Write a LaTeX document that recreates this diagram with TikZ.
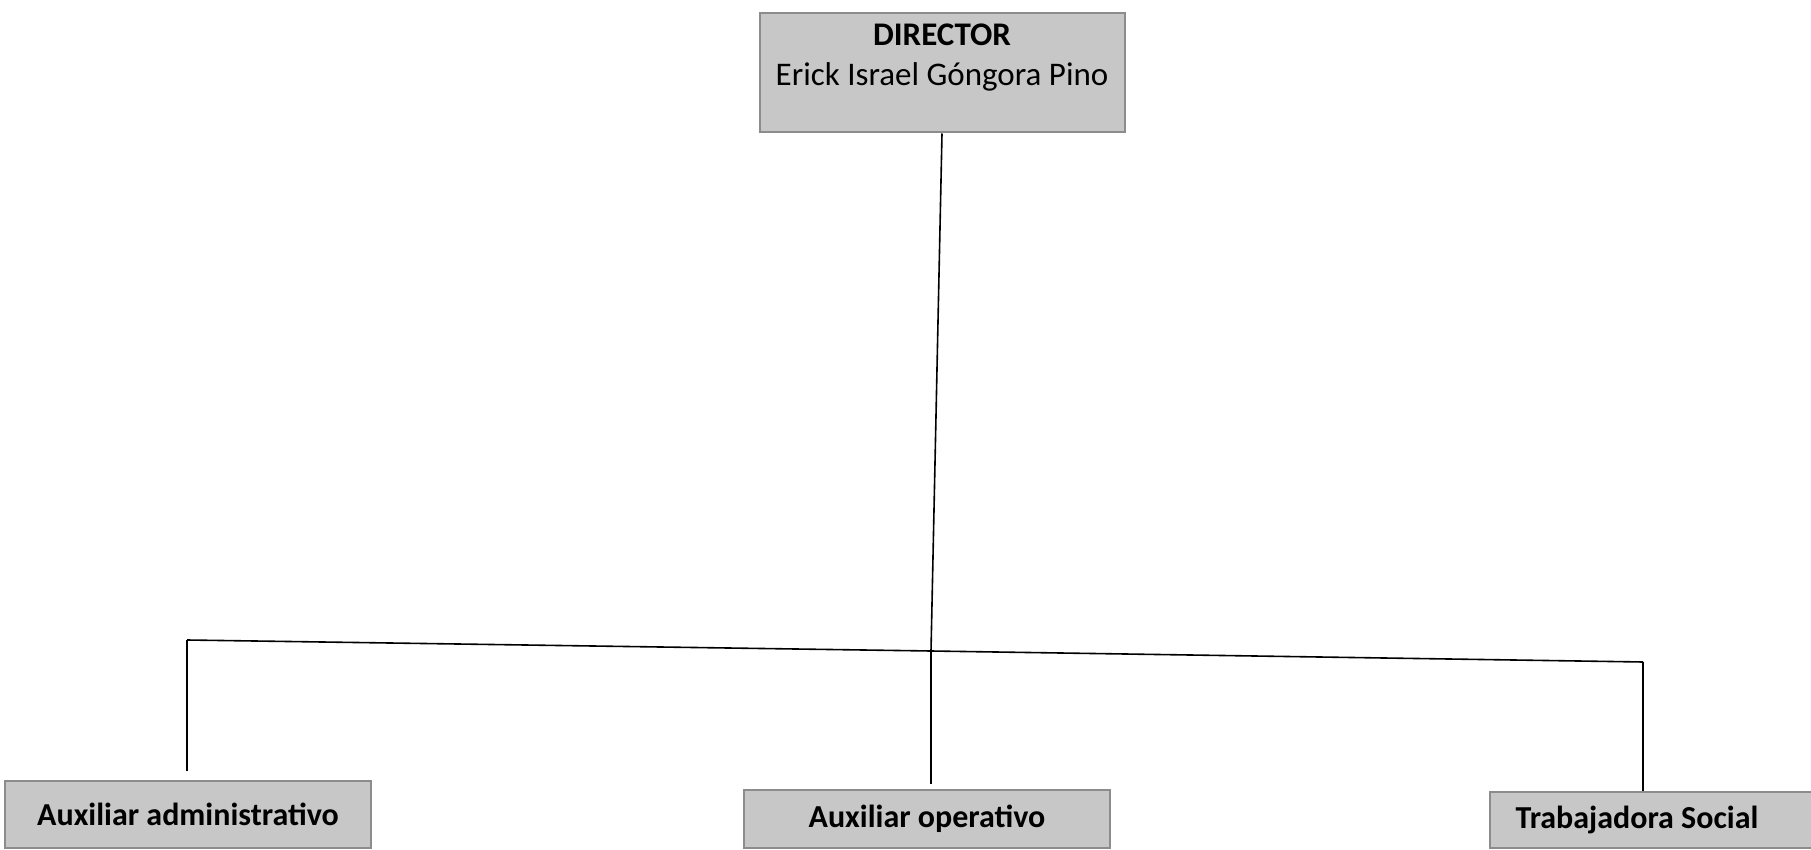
\documentclass[tikz,border=0pt]{standalone}
\usepackage{fontspec}
\setmainfont{Carlito}
\usetikzlibrary{positioning,arrows.meta}
\tikzset{
mybox/.style={
  rectangle,
  draw=black!45,
  fill=black!22,
  line width=1pt,
  align=center,
  font=\fontsize{16}{19}\selectfont\bfseries,
  inner sep=0pt
  },
myline/.style={
  draw=black,
  line width=0.8pt
  }
}
\begin{document}
\begin{tikzpicture}[x=0.5pt,y=-0.5pt]

\clip (0,0) rectangle (1811,850);
\fill[white] (0,0) rectangle (1811,850);

\node[mybox,minimum width=365*0.5pt,minimum height=119*0.5pt,
    font=\fontsize{16.5}{20}\selectfont]
at (942,73)
(dir)
{\raisebox{3.3pt}[0pt][0pt]{\begin{tabular}{@{}c@{}}
  \textbf{DIRECTOR}\\[0pt]
  Erick Israel Góngora Pino
\end{tabular}}};

\node[mybox,minimum width=366*0.5pt,minimum height=67*0.5pt]
at (188,814)
(aux1)
{Auxiliar administrativo};

\node[mybox,minimum width=366*0.5pt,minimum height=58*0.5pt]
at (927,819)
(aux2)
{Auxiliar operativo};

\node[mybox,minimum width=330*0.5pt,minimum height=56*0.5pt]
at (1655,820)
(trab)
{Trabajadora Social\hspace*{18pt}};

\coordinate (jn) at (931,651);
\coordinate (jl) at (187,640);
\coordinate (jr) at (1643,662);

\draw[myline] (dir.south) -- (jn);
\draw[myline] (jl) -- (jn) -- (jr);
\draw[myline,shorten >=4.5pt] (jl) -- (aux1.north -| jl);
\draw[myline,shorten >=2.5pt] (jn) -- (aux2.north -| jn);
\draw[myline] (jr) -- (trab.north -| jr);

\end{tikzpicture}
\end{document}
